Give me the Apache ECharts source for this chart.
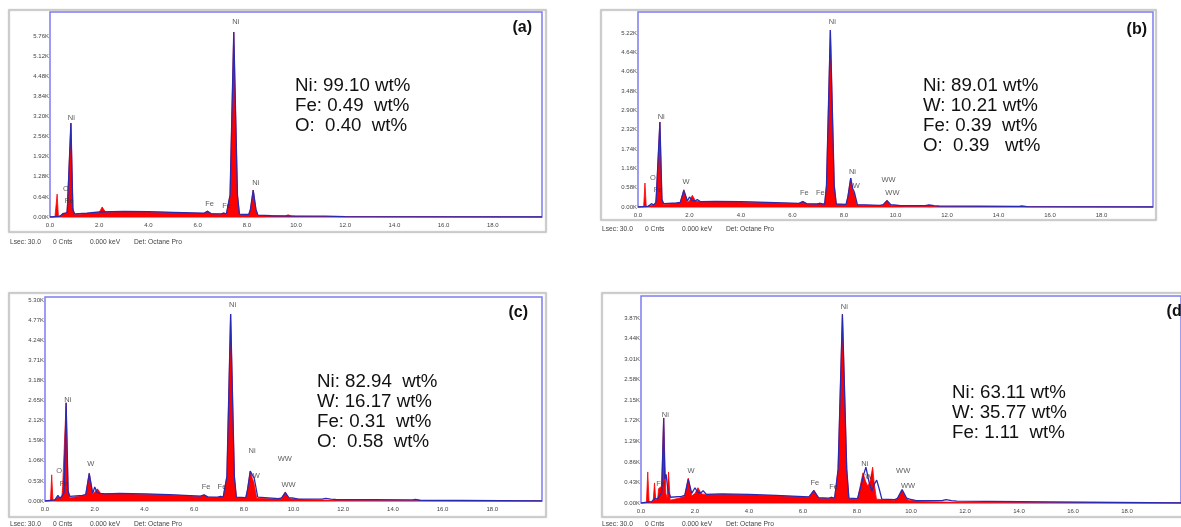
<!DOCTYPE html>
<html><head><meta charset="utf-8">
<script src="https://cdn.jsdelivr.net/npm/echarts@6/dist/echarts.min.js"></script>
<style>html,body{margin:0;padding:0;background:#fff}#c{width:1181px;height:527px}</style>
</head><body><div id="c"></div>
<script>
// ---- Data (energy keV, counts in K) ----
const redA = [[0,0],[0.2,0],[0.24,0.03],[0.29,0.73],[0.34,0.03],[0.45,0.05],[0.52,0.12],[0.58,0.06],[0.68,0.12],[0.71,0.38],[0.77,0.42],[0.85,2.99],[0.93,0.3],[0.99,0.08],[1.2,0.08],[1.6,0.12],[2.0,0.14],[2.12,0.32],[2.26,0.15],[3.0,0.17],[4.0,0.16],[5.0,0.14],[6.25,0.11],[6.4,0.19],[6.55,0.1],[6.95,0.09],[7.06,0.13],[7.17,0.09],[7.25,0.1],[7.32,0.7],[7.47,5.89],[7.62,0.7],[7.7,0.08],[8.08,0.07],[8.15,0.25],[8.26,0.86],[8.37,0.25],[8.45,0.05],[9.0,0.04],[9.55,0.03],[9.68,0.07],[9.8,0.03],[10.0,0.02],[12,0.01],[20,0]];
const blueA = [[0,0],[0.4,0.02],[0.52,0.1],[0.6,0.06],[0.7,0.14],[0.77,0.18],[0.85,2.99],[0.93,0.22],[1.0,0.1],[1.5,0.12],[2.0,0.16],[3.0,0.18],[4.0,0.17],[5.0,0.15],[6.25,0.12],[6.4,0.18],[6.55,0.11],[6.95,0.1],[7.06,0.12],[7.17,0.1],[7.25,0.1],[7.32,0.7],[7.47,5.89],[7.62,0.7],[7.7,0.09],[8.08,0.08],[8.15,0.25],[8.26,0.86],[8.37,0.25],[8.45,0.06],[9,0.04],[10,0.03],[11.2,0.03],[12,0.01],[20,0]];
const labelsA = [[0.87,3.15,'Ni'],[0.65,0.89,'O'],[0.78,0.51,'Fe'],[6.49,0.41,'Fe'],[7.18,0.35,'Fe'],[7.55,6.21,'Ni'],[8.37,1.08,'Ni']];
const textA = ['Ni: 99.10 wt%','Fe: 0.49  wt%','O:  0.40  wt%'];

const redB = [[0,0],[0.22,0.01],[0.27,0.72],[0.32,0.02],[0.45,0.04],[0.52,0.1],[0.58,0.05],[0.68,0.1],[0.71,0.32],[0.77,0.36],[0.85,2.55],[0.93,0.25],[0.99,0.07],[1.3,0.09],[1.64,0.13],[1.78,0.52],[1.92,0.14],[2.0,0.18],[2.11,0.35],[2.24,0.17],[2.4,0.16],[3,0.16],[4,0.15],[5,0.13],[6.25,0.1],[6.4,0.17],[6.55,0.09],[6.95,0.08],[7.06,0.12],[7.17,0.08],[7.25,0.09],[7.32,0.65],[7.47,5.31],[7.62,0.65],[7.7,0.08],[8.08,0.07],[8.15,0.3],[8.26,0.87],[8.34,0.5],[8.4,0.4],[8.5,0.06],[9.4,0.04],[9.52,0.06],[9.67,0.2],[9.8,0.06],[9.9,0.04],[10.5,0.02],[12,0.01],[20,0]];
const blueB = [[0,0],[0.4,0.02],[0.52,0.1],[0.6,0.06],[0.7,0.14],[0.77,0.2],[0.85,2.55],[0.93,0.22],[1.0,0.1],[1.5,0.12],[1.64,0.14],[1.78,0.5],[1.92,0.18],[2.0,0.3],[2.1,0.2],[2.22,0.18],[2.3,0.22],[2.42,0.16],[3,0.17],[4,0.16],[5,0.14],[6.25,0.11],[6.4,0.16],[6.55,0.1],[6.95,0.09],[7.06,0.11],[7.17,0.09],[7.25,0.09],[7.32,0.65],[7.47,5.31],[7.62,0.65],[7.7,0.09],[8.08,0.08],[8.15,0.3],[8.26,0.87],[8.34,0.55],[8.4,0.45],[8.52,0.07],[9.4,0.05],[9.52,0.07],[9.67,0.19],[9.82,0.07],[9.95,0.06],[10.2,0.04],[11.15,0.04],[11.3,0.06],[11.5,0.04],[11.7,0.03],[14.8,0.02],[14.9,0.03],[15.1,0.01],[20,0]];
const labelsB = [[0.58,0.87,'O'],[0.78,0.51,'Fe'],[0.9,2.7,'Ni'],[1.87,0.75,'W'],[6.46,0.42,'Fe'],[7.08,0.42,'Fe'],[7.55,5.56,'Ni'],[8.33,1.05,'Ni'],[8.48,0.63,'W'],[9.73,0.81,'WW'],[9.88,0.42,'WW']];
const textB = ['Ni: 89.01 wt%','W: 10.21 wt%','Fe: 0.39  wt%','O:  0.39   wt%'];

const redC = [[0,0],[0.22,0.01],[0.27,0.69],[0.32,0.02],[0.45,0.05],[0.52,0.12],[0.58,0.06],[0.68,0.12],[0.71,0.38],[0.77,0.42],[0.85,2.59],[0.93,0.3],[0.99,0.08],[1.3,0.12],[1.64,0.16],[1.78,0.74],[1.92,0.18],[2.0,0.2],[2.11,0.32],[2.24,0.2],[2.4,0.19],[3,0.19],[4,0.18],[5,0.16],[6.25,0.12],[6.4,0.16],[6.55,0.1],[6.95,0.09],[7.06,0.12],[7.17,0.09],[7.25,0.1],[7.32,0.65],[7.47,4.93],[7.62,0.65],[7.7,0.09],[8.08,0.08],[8.15,0.3],[8.26,0.79],[8.34,0.6],[8.4,0.5],[8.52,0.07],[9.4,0.05],[9.52,0.07],[9.67,0.24],[9.8,0.07],[9.9,0.06],[10.5,0.03],[12,0.01],[20,0]];
const blueC = [[0,0],[0.4,0.03],[0.52,0.15],[0.6,0.07],[0.7,0.15],[0.77,0.22],[0.85,2.59],[0.93,0.25],[1.0,0.12],[1.5,0.15],[1.64,0.17],[1.78,0.72],[1.92,0.2],[2.0,0.37],[2.1,0.22],[2.22,0.2],[2.3,0.24],[2.42,0.19],[3,0.2],[4,0.19],[5,0.17],[6.25,0.13],[6.4,0.16],[6.55,0.11],[6.95,0.1],[7.06,0.12],[7.17,0.1],[7.25,0.1],[7.32,0.65],[7.47,4.93],[7.62,0.65],[7.7,0.1],[8.08,0.09],[8.15,0.3],[8.26,0.79],[8.35,0.68],[8.42,0.6],[8.56,0.1],[9.4,0.06],[9.52,0.08],[9.67,0.22],[9.82,0.08],[9.95,0.08],[10.2,0.05],[11.15,0.05],[11.3,0.07],[11.5,0.05],[11.7,0.04],[14.8,0.03],[14.9,0.04],[15.1,0.02],[20,0]];
const labelsC = [[0.57,0.79,'O'],[0.77,0.45,'Fe'],[0.92,2.66,'Ni'],[1.84,0.98,'W'],[6.48,0.37,'Fe'],[7.12,0.37,'Fe'],[7.55,5.17,'Ni'],[8.33,1.32,'Ni'],[8.5,0.66,'W'],[9.65,1.11,'WW'],[9.8,0.42,'WW']];
const textC = ['Ni: 82.94  wt%','W: 16.17 wt%','Fe: 0.31  wt%','O:  0.58  wt%'];

const redD = [[0,0],[0.2,0.01],[0.25,0.65],[0.3,0.02],[0.45,0.03],[0.5,0.42],[0.55,0.05],[0.62,0.1],[0.65,0.3],[0.76,0.35],[0.84,1.78],[0.92,0.2],[0.97,0.1],[1.02,0.65],[1.08,0.06],[1.4,0.1],[1.62,0.14],[1.75,0.52],[1.88,0.15],[2.0,0.2],[2.11,0.32],[2.24,0.19],[2.4,0.18],[3,0.18],[4,0.17],[5,0.15],[6.22,0.12],[6.4,0.27],[6.58,0.1],[6.95,0.09],[7.06,0.12],[7.17,0.09],[7.23,0.1],[7.3,0.7],[7.46,3.95],[7.62,0.7],[7.7,0.09],[8.02,0.08],[8.1,0.3],[8.22,0.63],[8.32,0.45],[8.4,0.35],[8.48,0.45],[8.58,0.75],[8.64,0.4],[8.72,0.08],[9.4,0.06],[9.5,0.1],[9.67,0.27],[9.82,0.1],[9.92,0.06],[10.5,0.03],[12,0.01],[20,0]];
const blueD = [[0,0],[0.4,0.03],[0.52,0.1],[0.6,0.08],[0.7,0.16],[0.77,0.22],[0.84,1.78],[0.88,0.5],[0.93,0.6],[1.0,0.25],[1.1,0.12],[1.5,0.14],[1.62,0.16],[1.75,0.5],[1.88,0.2],[2.0,0.32],[2.1,0.22],[2.22,0.21],[2.3,0.26],[2.42,0.18],[3,0.19],[4,0.18],[5,0.16],[6.22,0.13],[6.4,0.26],[6.58,0.11],[6.95,0.1],[7.06,0.12],[7.17,0.1],[7.23,0.1],[7.3,0.7],[7.46,3.95],[7.62,0.7],[7.7,0.1],[8.02,0.09],[8.12,0.3],[8.25,0.6],[8.33,0.75],[8.44,0.45],[8.55,0.25],[8.65,0.4],[8.73,0.48],[8.82,0.3],[8.92,0.08],[9.4,0.07],[9.5,0.1],[9.67,0.28],[9.84,0.1],[9.95,0.08],[10.2,0.05],[11.15,0.05],[11.3,0.07],[11.5,0.05],[11.7,0.04],[20,0]];
const labelsD = [[0.9,1.84,'Ni'],[0.73,0.4,'Fe'],[1.85,0.67,'W'],[6.44,0.42,'Fe'],[7.13,0.33,'Fe'],[7.53,4.1,'Ni'],[8.29,0.82,'Ni'],[8.44,0.54,'W'],[9.71,0.67,'WW'],[9.89,0.36,'WW']];
const textD = ['Ni: 63.11 wt%','W: 35.77 wt%','Fe: 1.11  wt%'];

const tags = ['(a)','(b)','(c)','(d)'];
const yMax = [6.53, 5.85, 5.38, 4.33];
const yStep = [0.64, 0.58, 0.53, 0.43];
const yTopLabel = [5.76, 5.22, 5.30, 3.87];
const xTicks = [0,2,4,6,8,10,12,14,16,18];
const footerParts = ['Lsec: 30.0','0 Cnts','0.000 keV','Det: Octane Pro'];

// ---- Layout ----
const layout = [
  {grid:{left:50,top:12,width:492,height:205}, box:[9,10,537,222], text:[295,86], tag:[532,28], foot:[10,242]},
  {grid:{left:638,top:12,width:515,height:195}, box:[601,10,555,210], text:[923,86], tag:[1147,30], foot:[602,229]},
  {grid:{left:45,top:297,width:497,height:204}, box:[9,293,537,224], text:[317,382], tag:[528,313], foot:[10,524]},
  {grid:{left:641,top:296,width:550,height:207}, box:[602,293,600,224], text:[952,393], tag:[1187,312], foot:[602,524]}
];
const reds = [redA,redB,redC,redD], blues=[blueA,blueB,blueC,blueD], labs=[labelsA,labelsB,labelsC,labelsD], texts=[textA,textB,textC,textD];

const grids=[], xAxes=[], yAxes=[], series=[], graphics=[];
const tickFont = '"Liberation Sans", Arial';
layout.forEach((L,i)=>{
  const b=L.box;
  graphics.push({type:'rect', z:-10, shape:{x:b[0],y:b[1],width:b[2],height:b[3]}, style:{fill:'#fff', stroke:'#c4c4c4', lineWidth:1.5, shadowColor:'rgba(0,0,0,0.15)', shadowBlur:2}});
  grids.push(Object.assign({show:true, borderColor:'#7c7cf2', borderWidth:1.5, backgroundColor:'#fff', containLabel:false}, L.grid));
  xAxes.push({type:'value', gridIndex:i, min:0, max:20, interval:2,
    axisLine:{show:false}, axisTick:{show:false}, splitLine:{show:false},
    axisLabel:{show:true, margin:5, fontSize:6, color:'#444', fontFamily:tickFont,
      showMaxLabel:false, formatter:v=> xTicks.indexOf(Math.round(v))>=0 ? v.toFixed(1) : ''}});
  const top=yTopLabel[i];
  yAxes.push({type:'value', gridIndex:i, min:0, max:yMax[i], interval:yStep[i],
    axisLine:{show:false}, axisTick:{show:false}, splitLine:{show:false},
    axisLabel:{show:true, margin:1, fontSize:6, color:'#444', fontFamily:tickFont,
      formatter:v=> v<=top+0.001 ? v.toFixed(2)+'K' : ''}});
  series.push({type:'line', xAxisIndex:i, yAxisIndex:i, data:reds[i], symbol:'none', smooth:false,
    lineStyle:{color:'#ff0000', width:0.8}, areaStyle:{color:'#ff0000', opacity:1}, z:2, silent:true});
  series.push({type:'line', xAxisIndex:i, yAxisIndex:i, data:blues[i], symbol:'none', smooth:false,
    lineStyle:{color:'#2a2ab0', width:1.3}, z:3, silent:true});
  series.push({type:'scatter', xAxisIndex:i, yAxisIndex:i, data:labs[i], symbolSize:1, itemStyle:{color:'rgba(0,0,0,0)'}, z:4, silent:true,
    label:{show:true, position:'inside', formatter:p=>p.value[2], fontSize:7.5, color:'#333', fontFamily:tickFont}});
  texts[i].forEach((t,k)=>{
    graphics.push({type:'text', z:10, x:L.text[0], y:L.text[1]+k*20, style:{text:t, fill:'#111', font:'18.7px "Liberation Sans", Arial', verticalAlign:'middle'}});
  });
  graphics.push({type:'text', z:10, x:L.tag[0], y:L.tag[1], style:{text:tags[i], fill:'#111', font:'bold 16px "Liberation Sans", Arial', align:'right', verticalAlign:'middle'}});
  const offs=[0,43,80,124];
  footerParts.forEach((f,k)=>{
    graphics.push({type:'text', z:10, x:L.foot[0]+offs[k], y:L.foot[1], style:{text:f, fill:'#444', font:'6.7px "Liberation Sans", Arial', verticalAlign:'middle'}});
  });
});

const chart = echarts.init(document.getElementById('c'), null, {renderer:'canvas'});
chart.setOption({animation:false, backgroundColor:'#fff', grid:grids, xAxis:xAxes, yAxis:yAxes, series:series, graphic:graphics});
</script></body></html>
